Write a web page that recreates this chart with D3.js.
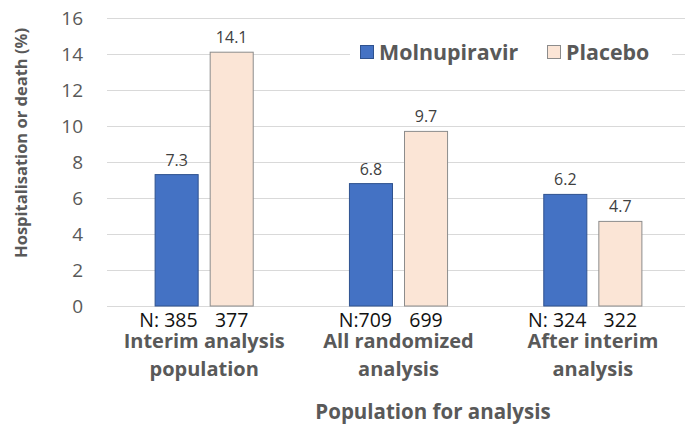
<!DOCTYPE html>
<html>
<head>
<meta charset="utf-8">
<script src="https://cdn.jsdelivr.net/npm/d3@7"></script>
<style>
  body { margin: 0; background: #fff; }
  svg { display: block; font-family: "Open Sans", sans-serif; }
</style>
</head>
<body>
<div class="chart"></div>
<script>
// chart data
var categories = [["Interim analysis", "population"], ["All randomized", "analysis"], ["After interim", "analysis"]];
var seriesNames = ["Molnupiravir", "Placebo"];
var molnupiravir = [7.3, 6.8, 6.2];
var placebo = [14.1, 9.7, 4.7];
var nMolnupiravir = ["N: 385", "N:709", "N: 324"];
var nPlacebo = ["377", "699", "322"];
var yTicks = [0, 2, 4, 6, 8, 10, 12, 14, 16];

var colors = {
  Molnupiravir: { fill: "#4472C4", stroke: "#2F528F" },
  Placebo: { fill: "#FBE5D6", stroke: "#8C8C8C" }
};

var svgWidth = 685, svgHeight = 427;
var margin = { top: 18, right: -5, bottom: 121, left: 107 };
var width = svgWidth - margin.left - margin.right;
var height = svgHeight - margin.top - margin.bottom;

var svg = d3.select(".chart").append("svg")
  .attr("width", svgWidth)
  .attr("height", svgHeight);

var chartGroup = svg.append("g")
  .attr("transform", `translate(${margin.left}, ${margin.top})`);

var yScale = d3.scaleLinear().domain([0, 16]).range([height, 0]);

var x0 = d3.scaleBand()
  .domain(d3.range(categories.length))
  .range([0, width])
  .paddingInner(0.49)
  .paddingOuter(0.245);

var x1 = d3.scaleBand()
  .domain(seriesNames)
  .range([0, x0.bandwidth()])
  .paddingInner(0.2);

// gridlines
chartGroup.append("g")
  .selectAll("line")
  .data(yTicks)
  .enter()
  .append("line")
  .attr("x1", 0)
  .attr("x2", width)
  .attr("y1", d => Math.round(yScale(d)) + 0.5)
  .attr("y2", d => Math.round(yScale(d)) + 0.5)
  .attr("stroke", "#D9D9D9")
  .attr("stroke-width", 1);

// y axis labels
var yAxis = d3.axisLeft(yScale).tickValues(yTicks).tickSize(0).tickPadding(24);
var yAxisG = chartGroup.append("g").call(yAxis);
yAxisG.select(".domain").remove();
yAxisG.selectAll("text")
  .style("font-size", "19px")
  .style("font-family", "'Open Sans', sans-serif")
  .attr("fill", "#595959");

// data rows
var rows = categories.map((c, i) => ({
  i: i,
  values: [
    { name: "Molnupiravir", value: molnupiravir[i] },
    { name: "Placebo", value: placebo[i] }
  ]
}));

var groups = chartGroup.selectAll(".group")
  .data(rows)
  .enter()
  .append("g")
  .attr("class", "group")
  .attr("transform", d => `translate(${x0(d.i)}, 0)`);

groups.selectAll("rect")
  .data(d => d.values)
  .enter()
  .append("rect")
  .attr("x", d => x1(d.name) + 0.5)
  .attr("y", d => yScale(d.value))
  .attr("width", x1.bandwidth() - 1)
  .attr("height", d => height - yScale(d.value))
  .attr("fill", d => colors[d.name].fill)
  .attr("stroke", d => colors[d.name].stroke)
  .attr("stroke-width", 1);

// value labels
groups.selectAll(".val")
  .data(d => d.values)
  .enter()
  .append("text")
  .attr("class", "val")
  .attr("x", d => x1(d.name) + x1.bandwidth() / 2)
  .attr("y", d => yScale(d.value) - 9)
  .attr("text-anchor", "middle")
  .style("font-size", "16px")
  .attr("fill", "#404040")
  .text(d => d.value.toFixed(1));

// N labels
groups.append("text")
  .attr("x", x1("Molnupiravir") + x1.bandwidth() - 1)
  .attr("y", height + 21)
  .attr("text-anchor", "end")
  .style("font-size", "19.5px")
  .attr("fill", "#111")
  .text(d => nMolnupiravir[d.i]);

groups.append("text")
  .attr("x", x1("Placebo") + x1.bandwidth() / 2)
  .attr("y", height + 21)
  .attr("text-anchor", "middle")
  .style("font-size", "19.5px")
  .attr("fill", "#111")
  .text(d => nPlacebo[d.i]);

// category labels
groups.append("text")
  .attr("text-anchor", "middle")
  .style("font-size", "20px")
  .style("font-weight", "bold")
  .attr("fill", "#595959")
  .selectAll("tspan")
  .data(d => categories[d.i])
  .enter()
  .append("tspan")
  .attr("x", x0.bandwidth() / 2)
  .attr("y", (d, j) => height + 42 + j * 28)
  .text(d => d);

// legend
var legend = svg.append("g").attr("transform", "translate(350, 30)");
legend.append("rect")
  .attr("x", 0).attr("y", 0)
  .attr("width", 322).attr("height", 44)
  .attr("fill", "#fff");

var legendX = [10, 197];
seriesNames.forEach(function(name, i) {
  legend.append("rect")
    .attr("x", legendX[i] + 0.5)
    .attr("y", 15.5)
    .attr("width", 13)
    .attr("height", 13)
    .attr("fill", colors[name].fill)
    .attr("stroke", colors[name].stroke);
  legend.append("text")
    .attr("x", legendX[i] + 19)
    .attr("y", 29.5)
    .style("font-size", "21.4px")
    .style("font-weight", "bold")
    .attr("fill", "#595959")
    .text(name);
});

// axis titles
svg.append("text")
  .attr("transform", "translate(27, 143) rotate(-90)")
  .attr("text-anchor", "middle")
  .style("font-size", "16.5px")
  .style("font-weight", "bold")
  .attr("fill", "#595959")
  .text("Hospitalisation or death (%)");

svg.append("text")
  .attr("x", 433)
  .attr("y", 419)
  .attr("text-anchor", "middle")
  .style("font-size", "20.5px")
  .style("font-weight", "bold")
  .attr("fill", "#595959")
  .text("Population for analysis");
</script>
</body>
</html>
